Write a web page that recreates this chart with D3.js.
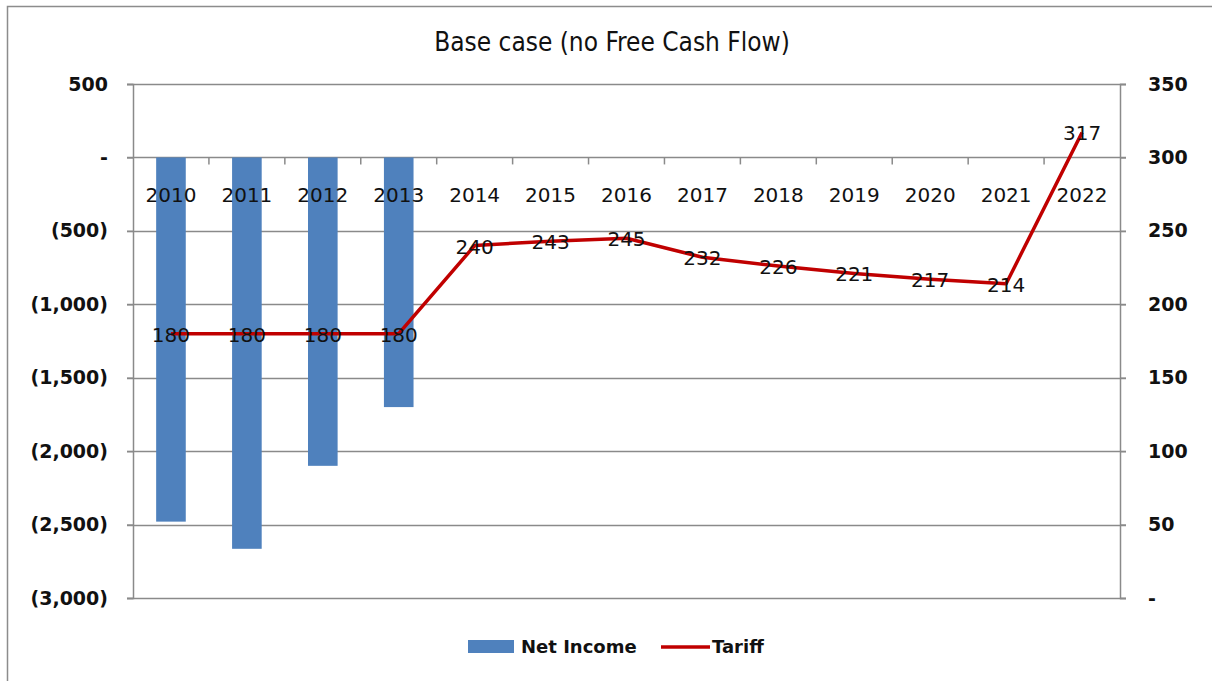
<!DOCTYPE html>
<html>
<head>
<meta charset="utf-8">
<script src="https://cdn.jsdelivr.net/npm/d3@7"></script>
<style>
  body { margin: 0; background: #fff; }
  svg { display: block; }
  text { font-family: "DejaVu Sans", sans-serif; fill: #111; }
</style>
</head>
<body>
<div id="chart"></div>
<script>
// chart data
var years = ["2010", "2011", "2012", "2013", "2014", "2015", "2016", "2017", "2018", "2019", "2020", "2021", "2022"];
var netIncome = [-2480, -2665, -2100, -1700, 0, 0, 0, 0, 0, 0, 0, 0, 0];
var tariff = [180, 180, 180, 180, 240, 243, 245, 232, 226, 221, 217, 214, 317];
var leftTicks = [500, 0, -500, -1000, -1500, -2000, -2500, -3000];
var rightTicks = [350, 300, 250, 200, 150, 100, 50, 0];

var width = 1212, height = 681;
// plot area edges (note: "top" is a reserved window prop, so use plot*)
var plotLeft = 133, plotRight = 1120, plotTop = 84, plotBottom = 598;

var svg = d3.select("#chart").append("svg")
    .attr("width", width)
    .attr("height", height);

// outer frame
svg.append("rect")
    .attr("x", 7.5).attr("y", 6.5)
    .attr("width", 1220).attr("height", 700)
    .attr("fill", "#fff")
    .attr("stroke", "#8c8c8c")
    .attr("stroke-width", 1.5);

var x = d3.scaleBand().domain(years).range([plotLeft, plotRight]).padding(0);
var yL = d3.scaleLinear().domain([-3000, 500]).range([plotBottom, plotTop]);
var yR = d3.scaleLinear().domain([0, 350]).range([plotBottom, plotTop]);

var fmtLeft = function (v) {
    if (v === 0) return "-";
    var s = d3.format(",")(Math.abs(v));
    return v < 0 ? "(" + s + ")" : s;
};

// gridlines
svg.append("g").selectAll("line")
    .data(leftTicks)
    .enter().append("line")
    .attr("x1", plotLeft - 6).attr("x2", plotRight + 6)
    .attr("y1", function (d) { return Math.round(yL(d)) + 0.5; })
    .attr("y2", function (d) { return Math.round(yL(d)) + 0.5; })
    .attr("stroke", "#8a8a8a")
    .attr("stroke-width", 1.5);

// left axis
var gL = svg.append("g").attr("transform", "translate(" + plotLeft + ",0)")
    .call(d3.axisLeft(yL).tickValues(leftTicks).tickFormat(fmtLeft).tickSize(6).tickPadding(19));
gL.selectAll("text").style("font-size", "19px").style("font-weight", "bold").attr("fill", "#222");

// right axis
var gR = svg.append("g").attr("transform", "translate(" + plotRight + ",0)")
    .call(d3.axisRight(yR).tickValues(rightTicks).tickFormat(function (v) { return v === 0 ? "-" : v; }).tickSize(6).tickPadding(22));
gR.selectAll("text").style("font-size", "19px").style("font-weight", "bold").attr("fill", "#222");

[gL, gR].forEach(function (g) {
    g.select(".domain").attr("stroke", "#8a8a8a").attr("stroke-width", 1.5);
    g.selectAll(".tick line").attr("stroke", "#8a8a8a").attr("stroke-width", 1.5);
});

// bars
var barW = x.bandwidth() * 0.39;
svg.append("g").selectAll("rect")
    .data(years.map(function (y, i) { return { year: y, value: netIncome[i] }; }))
    .enter().append("rect")
    .attr("x", function (d) { return x(d.year) + (x.bandwidth() - barW) / 2; })
    .attr("y", function (d) { return yL(Math.max(0, d.value)); })
    .attr("width", barW)
    .attr("height", function (d) { return Math.abs(yL(d.value) - yL(0)); })
    .attr("fill", "#4f81bd");

// category axis at zero line
var gX = svg.append("g").attr("transform", "translate(0," + yL(0) + ")")
    .call(d3.axisBottom(x).tickSize(0).tickPadding(30));
gX.select(".domain").remove();
gX.selectAll("text").style("font-size", "20px").attr("fill", "#111");
gX.selectAll(".boundary")
    .data(years.slice(1))
    .enter().append("line")
    .attr("x1", function (d) { return x(d); })
    .attr("x2", function (d) { return x(d); })
    .attr("y1", 0).attr("y2", 7)
    .attr("stroke", "#8a8a8a").attr("stroke-width", 1.5);

// tariff line
var line = d3.line()
    .x(function (d, i) { return x(years[i]) + x.bandwidth() / 2; })
    .y(function (d) { return yR(d); });

svg.append("path")
    .datum(tariff)
    .attr("d", line)
    .attr("fill", "none")
    .attr("stroke", "#c00000")
    .attr("stroke-width", 3.5)
    .attr("stroke-linejoin", "round");

svg.append("g").selectAll("text")
    .data(tariff)
    .enter().append("text")
    .attr("x", function (d, i) { return x(years[i]) + x.bandwidth() / 2; })
    .attr("y", function (d) { return yR(d) + 8; })
    .attr("text-anchor", "middle")
    .style("font-size", "20px")
    .text(function (d) { return d; });

// title
svg.append("text")
    .attr("x", 612).attr("y", 51)
    .attr("text-anchor", "middle")
    .style("font-family", "'DejaVu Sans Condensed', 'DejaVu Sans', sans-serif")
    .style("font-size", "26px")
    .text("Base case (no Free Cash Flow)");

// legend
var legend = svg.append("g");
legend.append("rect")
    .attr("x", 468).attr("y", 640).attr("width", 46).attr("height", 13)
    .attr("fill", "#4f81bd");
legend.append("text")
    .attr("x", 521).attr("y", 653)
    .style("font-size", "18px").style("font-weight", "bold")
    .text("Net Income");
legend.append("line")
    .attr("x1", 661).attr("x2", 710).attr("y1", 647).attr("y2", 647)
    .attr("stroke", "#c00000").attr("stroke-width", 3.5);
legend.append("text")
    .attr("x", 712).attr("y", 653)
    .style("font-size", "18px").style("font-weight", "bold")
    .text("Tariff");
</script>
</body>
</html>
